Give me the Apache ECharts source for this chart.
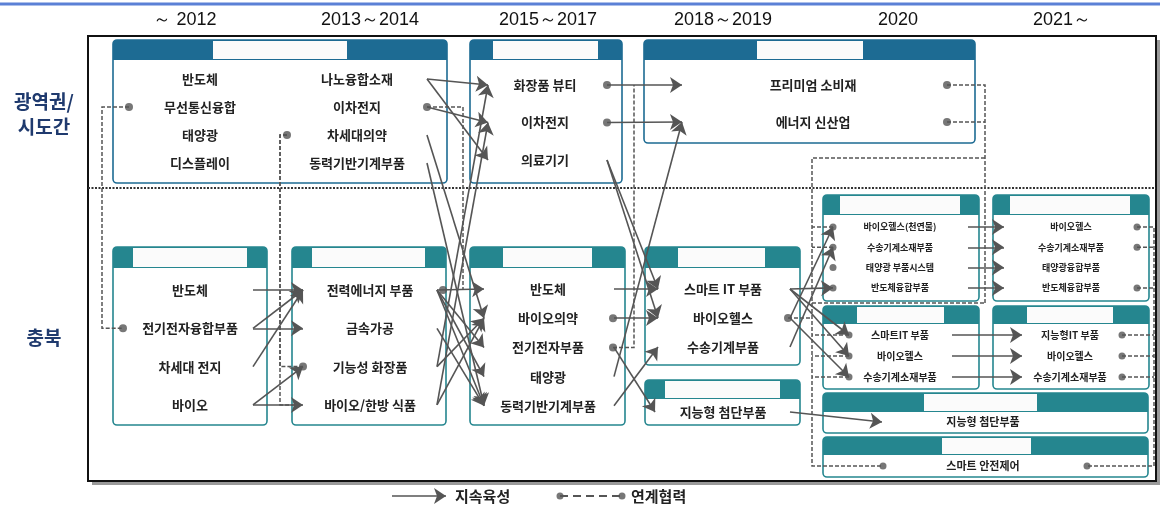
<!DOCTYPE html>
<html>
<head>
<meta charset="utf-8">
<script src="https://cdn.jsdelivr.net/npm/echarts@6/dist/echarts.min.js"></script>
<style>
  html, body { margin: 0; padding: 0; background: #fff; }
  #chart { width: 1160px; height: 511px; }
</style>
</head>
<body>
<div id="chart"></div>
<script>
  // ---- data ----
  const periods = ['～ 2012', '2013～2014', '2015～2017', '2018～2019', '2020', '2021～'];
  const regionLabels = ['광역권/', '시도간', '충북'];
  const legendNames = ['지속육성', '연계협력'];

  const wideEarly = ['반도체', '무선통신융합', '태양광', '디스플레이'];
  const wideEarly2 = ['나노융합소재', '이차전지', '차세대의약', '동력기반기계부품'];
  const wideMid = ['화장품 뷰티', '이차전지', '의료기기'];
  const wideLate = ['프리미엄 소비재', '에너지 신산업'];
  const cb2012 = ['반도체', '전기전자융합부품', '차세대 전지', '바이오'];
  const cb2013 = ['전력에너지 부품', '금속가공', '기능성 화장품', '바이오/한방 식품'];
  const cb2015 = ['반도체', '바이오의약', '전기전자부품', '태양광', '동력기반기계부품'];
  const cb2018 = ['스마트 IT 부품', '바이오헬스', '수송기계부품'];
  const cb2018b = ['지능형 첨단부품'];
  const cb2020a = ['바이오헬스(천연물)', '수송기계소재부품', '태양광 부품시스템', '반도체융합부품'];
  const cb2021a = ['바이오헬스', '수송기계소재부품', '태양광융합부품', '반도체융합부품'];
  const cb2020b = ['스마트IT 부품', '바이오헬스', '수송기계소재부품'];
  const cb2021b = ['지능형IT 부품', '바이오헬스', '수송기계소재부품'];
  const cbSmart = ['지능형 첨단부품'];
  const cbSafety = ['스마트 안전제어'];

  // 지속육성 (solid arrows): [from group, item, to group, item]
  const growLinks = [
    ['D', 0, 'E', 0], ['D', 1, 'E', 0], ['D', 1, 'E', 1], ['D', 2, 'E', 0], ['D', 3, 'E', 2], ['D', 3, 'E', 3],
    ['A2', 0, 'B', 0], ['A2', 0, 'B', 2], ['A2', 1, 'B', 1], ['A2', 2, 'F', 1], ['A2', 3, 'F', 4],
    ['E', 2, 'B', 0], ['E', 3, 'B', 1],
    ['E', 0, 'F', 0], ['E', 0, 'F', 2], ['E', 0, 'F', 3], ['E', 0, 'F', 4], ['E', 1, 'F', 4], ['E', 2, 'F', 1], ['E', 3, 'F', 1],
    ['B', 0, 'C', 0], ['B', 1, 'C', 1], ['B', 2, 'G', 0], ['B', 2, 'G', 1],
    ['F', 0, 'G', 0], ['F', 1, 'G', 1], ['F', 2, 'H', 0], ['F', 3, 'C', 1], ['F', 4, 'G', 2],
    ['G', 0, 'I', 3], ['G', 0, 'K', 0], ['G', 0, 'K', 1], ['G', 1, 'I', 0], ['G', 1, 'K', 2], ['G', 2, 'I', 1],
    ['H', 0, 'M', 0],
    ['I', 0, 'J', 0], ['I', 1, 'J', 1], ['I', 2, 'J', 2], ['I', 3, 'J', 3],
    ['K', 0, 'L', 0], ['K', 1, 'L', 1], ['K', 2, 'L', 2]
  ];

  // ---- layout (positions / styles) ----
  const BLUE = '#1d6b93', TEAL = '#25868f';
  const boxes = {
    A: { x0: 113, y0: 40, x1: 447, y1: 183, head: 20, color: BLUE, label: [213, 347] },
    B: { x0: 470, y0: 40, x1: 622, y1: 183, head: 20, color: BLUE, label: [493, 598] },
    C: { x0: 644, y0: 40, x1: 975, y1: 143, head: 20, color: BLUE, label: [757, 863] },
    D: { x0: 113, y0: 247, x1: 267, y1: 425, head: 21, color: TEAL, label: [133, 247] },
    E: { x0: 292, y0: 247, x1: 446, y1: 425, head: 21, color: TEAL, label: [312, 425] },
    F: { x0: 470, y0: 247, x1: 625, y1: 425, head: 21, color: TEAL, label: [503, 592] },
    G: { x0: 645, y0: 247, x1: 800, y1: 365, head: 21, color: TEAL, label: [678, 765] },
    H: { x0: 645, y0: 380, x1: 800, y1: 425, head: 19, color: TEAL, label: [665, 780] },
    I: { x0: 823, y0: 195, x1: 979, y1: 301, head: 20, color: TEAL, label: [840, 960] },
    J: { x0: 993, y0: 195, x1: 1149, y1: 301, head: 20, color: TEAL, label: [1010, 1130] },
    K: { x0: 823, y0: 306, x1: 979, y1: 389, head: 18, color: TEAL, label: [857, 944] },
    L: { x0: 993, y0: 306, x1: 1149, y1: 389, head: 18, color: TEAL, label: [1027, 1113] },
    M: { x0: 823, y0: 393, x1: 1148, y1: 433, head: 19, color: TEAL, label: [924, 1037] },
    N: { x0: 823, y0: 437, x1: 1148, y1: 477, head: 18, color: TEAL, label: [942, 1031] }
  };
  const groups = {
    A1: { items: wideEarly, x: 200, y0: 79, dy: 28, dotL: 129, font: 13 },
    A2: { items: wideEarly2, x: 357, y0: 79, dy: 28, dotL: 287, dotR: 427, out: 427, font: 13 },
    B: { items: wideMid, x: 545, y0: 85, dy: 37.5, in: 488, out: 607, dotR: 607, font: 13 },
    C: { items: wideLate, x: 813, y0: 85, dy: 37, in: 682, dotR: 947, font: 13 },
    D: { items: cb2012, x: 190, y0: 290, dy: 38.3, dotL: 123, out: 253, font: 13 },
    E: { items: cb2013, x: 370, y0: 290, dy: 38.3, dotL: 303, dotR: 443, in: 303, out: 437, font: 13 },
    F: { items: cb2015, x: 548, y0: 289, dy: 29.2, in: 484, out: 614, dotR: 613, font: 13 },
    G: { items: cb2018, x: 723, y0: 289, dy: 29, in: 658, out: 790, dotR: 788, font: 13 },
    H: { items: cb2018b, x: 723, y0: 412, dy: 0, in: 655, out: 790, font: 13 },
    I: { items: cb2020a, x: 900, y0: 227, dy: 20.3, dotL: 833, in: 833, out: 968, font: 9 },
    J: { items: cb2021a, x: 1071, y0: 227, dy: 20.3, in: 1004, dotR: 1137, font: 9 },
    K: { items: cb2020b, x: 900, y0: 335, dy: 21, dotL: 849, in: 849, out: 952, font: 10 },
    L: { items: cb2021b, x: 1070, y0: 335, dy: 21, in: 1022, dotR: 1122, font: 10 },
    M: { items: cbSmart, x: 983, y0: 422, dy: 0, in: 882, font: 11 },
    N: { items: cbSafety, x: 983, y0: 466, dy: 0, dotL: 883, dotR: 1087, font: 11 }
  };
  // 연계협력 (dashed) routes
  const linkRoutes = [
    ['A1:1:l', { x: 102 }, 'D:1:l'],
    ['A2:2:l', { x: 280 }, 'E:2:l'],
    ['A2:2:l', { x: 280 }, { yOf: 'E:3' }, { x: 298 }],
    ['A2:1:r', { x: 463 }, { yOf: 'F:0' }],
    ['F:2:r', { x: 634 }, { yOf: 'B:0' }],
    ['C:0:r', { x: 985 }, { y: 303 }],
    ['C:1:r', { x: 985 }],
    [{ x: 985, y: 158 }, { x: 812 }, { yOf: 'N:0' }, 'N:0:l'],
    [{ x: 812, y: 303 }, { x: 985 }],
    ['I:0:l', { x: 812 }], ['I:1:l', { x: 812 }],
    ['K:0:l', { x: 812 }], ['K:1:l', { x: 812 }], ['K:2:l', { x: 812 }],
    ['G:1:r', { x: 812 }],
    ['J:0:r', { x: 1154 }, { yOf: 'N:0' }, 'N:0:r'],
    ['J:1:r', { x: 1154 }], ['J:3:r', { x: 1154 }],
    ['L:0:r', { x: 1154 }], ['L:1:r', { x: 1154 }], ['L:2:r', { x: 1154 }]
  ];
  const extraDots = ['I:2:l', 'I:3:l', 'E:0:r', 'B:0:r', 'B:1:r', 'F:1:r'];
  const periodX = [185, 370, 548, 723, 898, 1062];
  const regionPos = [[44, 102], [44, 127], [44, 338]];
  const frame = { x0: 88, y0: 36, x1: 1156, y1: 481, divider: 188 };
  const legendPos = { solid: [392, 446], dash: [560, 622], y: 496, text: [455, 631] };

  // ---- helpers ----
  function itemY(g, i) { const G = groups[g]; return G.y0 + Number(i) * G.dy; }
  function anchor(ref) {
    const [g, i, s] = ref.split(':');
    return [s === 'l' ? groups[g].dotL : groups[g].dotR, itemY(g, i)];
  }
  function route(tokens) {
    const pts = [];
    tokens.forEach(t => {
      const prev = pts[pts.length - 1];
      if (typeof t === 'string') {
        const a = anchor(t);
        if (prev && prev[0] !== a[0] && prev[1] !== a[1]) pts.push([prev[0], a[1]]);
        pts.push(a);
      } else if (t.x !== undefined && t.y !== undefined) pts.push([t.x, t.y]);
      else if (t.x !== undefined) pts.push([t.x, prev[1]]);
      else if (t.y !== undefined) pts.push([prev[0], t.y]);
      else if (t.yOf) { const [g, i] = t.yOf.split(':'); pts.push([prev[0], itemY(g, i)]); }
    });
    return pts;
  }

  // text marks
  const KR = 'Noto Sans CJK KR';
  const texts = [];
  periods.forEach((p, i) => texts.push({ x: periodX[i], y: 20, text: p, size: 18, family: 'Liberation Sans', color: '#111', weight: 'normal' }));
  regionLabels.forEach((r, i) => texts.push({ x: regionPos[i][0], y: regionPos[i][1], text: r, size: 19, family: KR, color: '#1f3a6e', weight: 'bold' }));
  Object.keys(groups).forEach(k => {
    const G = groups[k];
    G.items.forEach((t, i) => texts.push({ x: G.x, y: itemY(k, i), text: t, size: G.font, family: KR, color: '#222', weight: 'bold' }));
  });
  legendNames.forEach((n, i) => texts.push({ x: legendPos.text[i], y: legendPos.y, text: n, size: 15, family: KR, color: '#222', weight: 'bold', align: 'left' }));

  const solidData = growLinks.map(([fg, fi, tg, ti]) => ({
    coords: [[groups[fg].out, itemY(fg, fi)], [groups[tg].in, itemY(tg, ti)]]
  }));
  solidData.push({ coords: [[legendPos.solid[0], legendPos.y], [legendPos.solid[1], legendPos.y]] });

  const dashData = linkRoutes.map(r => ({ coords: route(r) }));

  const dotSet = {};
  linkRoutes.forEach(r => r.forEach(t => { if (typeof t === 'string') dotSet[t] = 1; }));
  extraDots.forEach(d => { dotSet[d] = 1; });
  const dotData = Object.keys(dotSet).map(ref => {
    const g = ref.split(':')[0];
    return { value: anchor(ref), symbolSize: groups[g].font < 12 ? 7 : 8 };
  });
  dotData.push({ value: [legendPos.dash[0], legendPos.y], symbolSize: 7 }, { value: [legendPos.dash[1], legendPos.y], symbolSize: 7 });

  const boxKeys = Object.keys(boxes);

  const chart = echarts.init(document.getElementById('chart'));
  chart.setOption({
    animation: false,
    grid: { left: 0, right: 0, top: 0, bottom: 0 },
    xAxis: { type: 'value', min: 0, max: 1160, show: false },
    yAxis: { type: 'value', min: 0, max: 511, inverse: true, show: false },
    series: [
      {
        // frame, divider, top rule
        type: 'custom', z: 0, silent: true,
        data: [[0]],
        renderItem: (params, api) => {
          const a = api.coord([frame.x0, frame.y0]);
          const b = api.coord([frame.x1, frame.y1]);
          const d = api.coord([0, frame.divider]);
          const top = api.coord([1160, 4]);
          return {
            type: 'group', children: [
              { type: 'rect', shape: { x: 0, y: top[1] - 1.5, width: top[0], height: 3 }, style: { fill: '#5b80d6' } },
              { type: 'rect', shape: { x: a[0] + 4, y: a[1] + 4, width: b[0] - a[0], height: b[1] - a[1] }, style: { fill: '#9a9a9a' } },
              { type: 'rect', shape: { x: a[0], y: a[1], width: b[0] - a[0], height: b[1] - a[1] }, style: { fill: '#fff', stroke: '#111', lineWidth: 2 } },
              { type: 'line', shape: { x1: a[0], y1: d[1], x2: b[0], y2: d[1] }, style: { stroke: '#333', lineWidth: 2, lineDash: [2, 1.5] } }
            ]
          };
        }
      },
      {
        type: 'custom', z: 1, silent: true,
        data: boxKeys.map((k, i) => [i]),
        renderItem: (params, api) => {
          const b = boxes[boxKeys[params.dataIndex]];
          const p0 = api.coord([b.x0, b.y0]);
          const p1 = api.coord([b.x1, b.y1]);
          const ph = api.coord([b.label[0], b.y0 + b.head]);
          const pl = api.coord([b.label[1], b.y0]);
          return {
            type: 'group', children: [
              { type: 'rect', shape: { x: p0[0], y: p0[1], width: p1[0] - p0[0], height: p1[1] - p0[1], r: 4 }, style: { fill: '#fff', stroke: b.color, lineWidth: 1.6 } },
              { type: 'rect', shape: { x: p0[0], y: p0[1], width: p1[0] - p0[0], height: ph[1] - p0[1], r: [4, 4, 0, 0] }, style: { fill: b.color } },
              { type: 'rect', shape: { x: ph[0], y: p0[1] + 1, width: pl[0] - ph[0], height: ph[1] - p0[1] - 2 }, style: { fill: '#fbfbfb' } }
            ]
          };
        }
      },
      {
        type: 'lines', coordinateSystem: 'cartesian2d', polyline: true, z: 3, silent: true,
        lineStyle: { color: '#555', width: 1.5, type: [4, 2], opacity: 1 },
        data: dashData
      },
      {
        // legend sample for 연계협력
        type: 'lines', coordinateSystem: 'cartesian2d', z: 3, silent: true,
        lineStyle: { color: '#555', width: 2, type: [8, 5], opacity: 1 },
        data: [{ coords: [[legendPos.dash[0], legendPos.y], [legendPos.dash[1], legendPos.y]] }]
      },
      {
        type: 'lines', coordinateSystem: 'cartesian2d', z: 4, silent: true,
        symbol: ['none', 'arrow'], symbolSize: 12,
        lineStyle: { color: '#555', width: 1.6, opacity: 1 },
        data: solidData
      },
      {
        type: 'scatter', z: 5, silent: true, symbol: 'circle',
        itemStyle: { color: '#555' },
        data: dotData
      },
      {
        type: 'custom', z: 6, silent: true,
        data: texts.map(t => [t.x, t.y]),
        renderItem: (params, api) => {
          const t = texts[params.dataIndex];
          const p = api.coord([api.value(0), api.value(1)]);
          return {
            type: 'text', x: p[0], y: p[1],
            style: {
              text: t.text, fill: t.color, fontSize: t.size, fontFamily: t.family, fontWeight: t.weight,
              align: t.align || 'center', verticalAlign: 'middle'
            }
          };
        }
      }
    ]
  });
</script>
</body>
</html>
